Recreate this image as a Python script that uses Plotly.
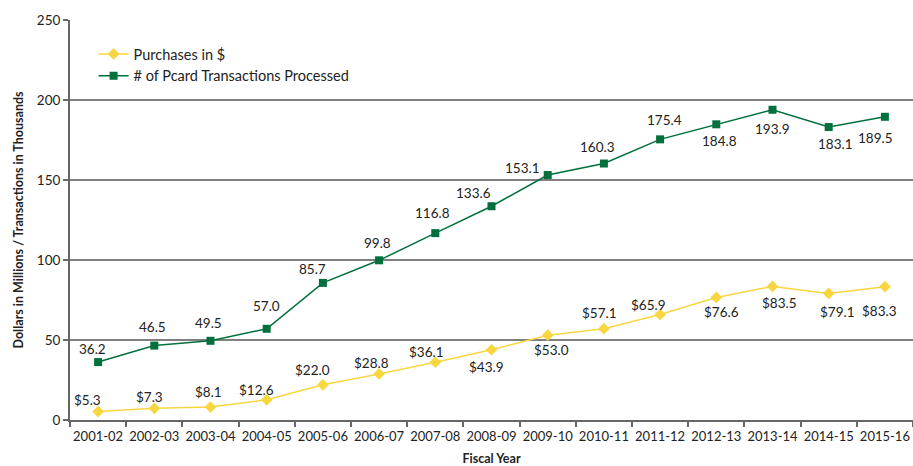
import plotly.graph_objects as go

years = ["2001-02", "2002-03", "2003-04", "2004-05", "2005-06", "2006-07", "2007-08",
         "2008-09", "2009-10", "2010-11", "2011-12", "2012-13", "2013-14", "2014-15", "2015-16"]
purchases = [5.3, 7.3, 8.1, 12.6, 22.0, 28.8, 36.1, 43.9, 53.0, 57.1, 65.9, 76.6, 83.5, 79.1, 83.3]
transactions = [36.2, 46.5, 49.5, 57.0, 85.7, 99.8, 116.8, 133.6, 153.1, 160.3, 175.4, 184.8, 193.9, 183.1, 189.5]

# label offsets from each marker, in pixels (dx, dy with dy positive = up)
purchase_offsets = [(-11, 12), (-5, 11), (-2, 15), (-10, 10), (-10, 15), (-8, 11), (-9, 10),
                    (-5, -17), (4, -15), (-4, 16), (-12, 10), (5, -15), (7, -17), (9, -19), (-5, -24)]
trans_offsets = [(-6, 13), (-2, 19), (-2, 18), (0, 23), (-10, 14), (-2, 17), (-3, 20), (-18, 13),
                 (-25, 7), (-6, 17), (4, 19), (3, -17), (0, -19), (7, -17), (-9, -21)]

YELLOW = "#F7D63F"
GREEN = "#00703C"
FONT = "Lato, 'Open Sans', sans-serif"
TEXT = "#222222"

fig = go.Figure()
fig.add_trace(go.Scatter(
    x=years, y=purchases, name="Purchases in $", mode="lines+markers",
    line=dict(color=YELLOW, width=1.5),
    marker=dict(symbol="diamond", size=9, color=YELLOW),
))
fig.add_trace(go.Scatter(
    x=years, y=transactions, name="# of Pcard Transactions Processed", mode="lines+markers",
    line=dict(color=GREEN, width=1.5),
    marker=dict(symbol="square", size=8, color=GREEN),
))

# value labels beside each point
for xs, vals, offs, fmt in [(years, purchases, purchase_offsets, "${:.1f}"),
                            (years, transactions, trans_offsets, "{:.1f}")]:
    for x, v, (dx, dy) in zip(xs, vals, offs):
        fig.add_annotation(x=x, y=v, text=fmt.format(v), showarrow=False,
                           xanchor="center", yanchor="middle", xshift=dx, yshift=dy,
                           font=dict(size=13.5, color=TEXT, family=FONT))

fig.update_layout(
    width=913, height=466,
    margin=dict(l=70, r=0, t=20, b=46),
    plot_bgcolor="white", paper_bgcolor="white",
    font=dict(family=FONT, size=13, color=TEXT),
    showlegend=True,
    legend=dict(x=0.028, y=0.955, xanchor="left", yanchor="top",
                bgcolor="rgba(0,0,0,0)", font=dict(size=14.5), tracegroupgap=0,
                itemwidth=30),
    xaxis=dict(
        type="category", range=[-0.5, 14.5], automargin=False,
        showline=True, linecolor="#666666", linewidth=2,
        ticks="outside", tickson="boundaries", ticklen=5, tickcolor="#666666", tickwidth=1.5,
        showgrid=False, tickfont=dict(size=13), tickangle=0, ticklabelstandoff=3,
        title=dict(text="<b>Fiscal Year</b>", font=dict(size=12.5), standoff=12),
    ),
    yaxis=dict(
        range=[0, 250], dtick=50, automargin=False,
        showline=True, linecolor="#666666", linewidth=2,
        ticks="outside", ticklen=5, tickcolor="#666666", tickwidth=1.5,
        showgrid=True, gridcolor="#808080", gridwidth=1.5,
        zeroline=False, tickfont=dict(size=13.5),
        title=dict(text="<b>Dollars in Millions / Transactions in Thousands</b>", font=dict(size=12.5), standoff=10),
    ),
)

fig.write_html("out.html")
